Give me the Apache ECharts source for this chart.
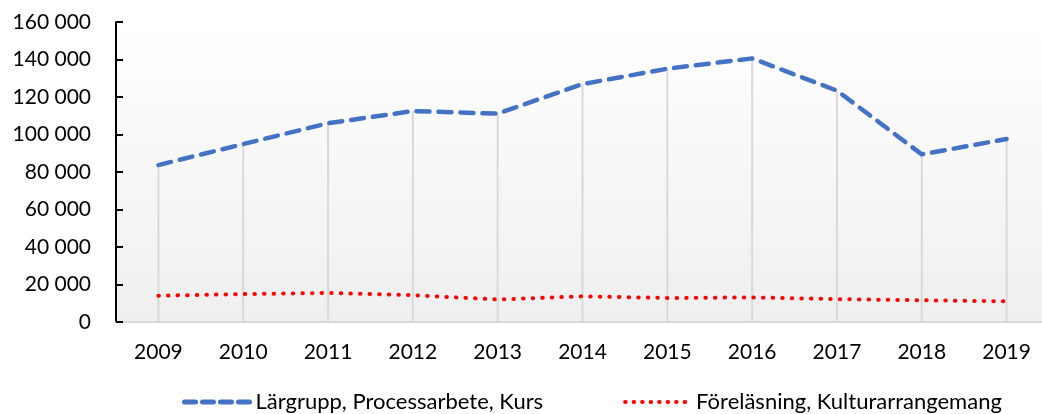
<!DOCTYPE html>
<html>
<head>
<meta charset="utf-8">
<script src="https://cdn.jsdelivr.net/npm/echarts@6/dist/echarts.min.js"></script>
<style>
  html, body { margin: 0; padding: 0; background: #fff; }
  #chart { width: 1042px; height: 414px; }
</style>
</head>
<body>
<div id="chart"></div>
<script>
// årtal på x-axeln
const years = ['2009', '2010', '2011', '2012', '2013', '2014', '2015', '2016', '2017', '2018', '2019'];
// deltagare per år
const largrupp = [83700, 94900, 106000, 112500, 111100, 126900, 135100, 140600, 123400, 89400, 97600];
const forelasning = [14000, 14900, 15500, 14300, 12000, 13700, 12800, 13100, 12200, 11600, 11000];
// y-axelns skala
const yMin = 0;
const yMax = 160000;
const yStep = 20000;

const seriesNames = ['Lärgrupp, Processarbete, Kurs', 'Föreläsning, Kulturarrangemang'];

const fontFamily = 'Lato, "Open Sans", sans-serif';

let myChart = echarts.init(document.getElementById('chart'));

// mellanslag som tusentalsavgränsare
function fmt(v) {
  return String(v).replace(/\B(?=(\d{3})+(?!\d))/g, ' ');
}

let option = {
  animation: false,
  textStyle: { fontFamily: fontFamily },
  grid: {
    left: 116,
    top: 22,
    width: 933,
    height: 300,
    outerBoundsMode: 'none',
    show: true,
    borderWidth: 0,
    backgroundColor: new echarts.graphic.LinearGradient(0, 0, 0, 1, [
      { offset: 0, color: '#ffffff' },
      { offset: 1, color: '#efefef' }
    ])
  },
  legend: {
    data: [
      {
        name: seriesNames[0],
        itemStyle: { opacity: 0 },
        lineStyle: { color: '#4472c4', width: 5, type: [11, 7], cap: 'round' }
      },
      {
        name: seriesNames[1],
        itemStyle: { opacity: 0 },
        lineStyle: { color: '#ff0000', width: 4, type: [0.5, 8], cap: 'round' }
      }
    ],
    left: 177,
    top: 386,
    itemWidth: 66,
    itemHeight: 14,
    itemGap: 80,
    textStyle: { fontSize: 22, color: '#000', fontFamily: fontFamily }
  },
  xAxis: {
    type: 'category',
    data: years,
    boundaryGap: true,
    axisLine: { lineStyle: { color: '#d9d9d9', width: 2 } },
    axisTick: { show: false },
    axisLabel: { color: '#000', fontSize: 21, margin: 20 },
    splitLine: { show: false }
  },
  yAxis: {
    type: 'value',
    min: yMin,
    max: yMax,
    interval: yStep,
    axisLine: { show: true, lineStyle: { color: '#000', width: 2 } },
    axisTick: { show: true, inside: true, length: 7, lineStyle: { color: '#000', width: 2 } },
    axisLabel: { color: '#000', fontSize: 21, margin: 25, formatter: fmt },
    splitLine: { show: false }
  },
  series: [
    {
      // lodlinjer från högsta punkten ner till axeln
      name: 'drop',
      type: 'bar',
      data: largrupp,
      barWidth: 2,
      itemStyle: { color: '#d9d9d9' },
      silent: true,
      z: 1
    },
    {
      name: seriesNames[0],
      type: 'line',
      data: largrupp,
      symbol: 'none',
      lineStyle: { color: '#4472c4', width: 4.5, type: [13, 9], cap: 'round' },
      itemStyle: { color: '#4472c4' },
      z: 3
    },
    {
      name: seriesNames[1],
      type: 'line',
      data: forelasning,
      symbol: 'none',
      lineStyle: { color: '#ff0000', width: 4, type: [0.5, 9.1], cap: 'round' },
      itemStyle: { color: '#ff0000' },
      z: 3
    }
  ]
};

option && myChart.setOption(option);
</script>
</body>
</html>
